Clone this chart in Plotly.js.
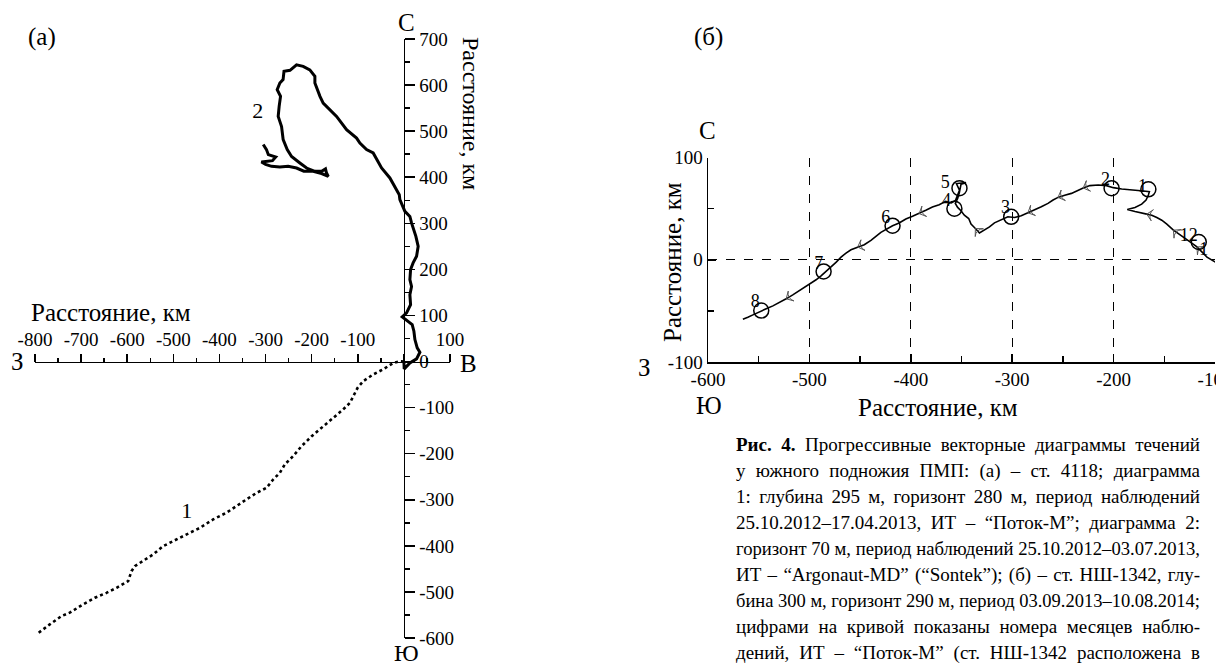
<!DOCTYPE html>
<html>
<head>
<meta charset="utf-8">
<script src="https://cdn.plot.ly/plotly-3.0.1.min.js"></script>
<style>
html,body{margin:0;padding:0;background:#fff;overflow:hidden;}
#chart{position:absolute;left:0;top:0;width:1216px;height:665px;}
#caption{position:absolute;left:736px;top:432px;width:464px;height:240px;font-family:"Liberation Serif","Times New Roman",serif;font-size:19px;line-height:26px;color:#000;}
#caption div{position:absolute;left:0;white-space:nowrap;}
</style>
</head>
<body>
<div id="chart"></div>
<div id="caption"></div>
<script>
// ---------- Panel (а): progressive vector diagrams, st. 4118 ----------
const curve1X = [0,-8.7,-23,-45,-66.6,-88,-100.4,-110,-117,-131.7,-153,-175,-200,-211,-222,-240,-258,-269,-283.5,-297.8,-319.5,-341,-363,-384.6,-413.7,-442.5,-471,-500,-522,-543.8,-565.5,-583.5,-590.7,-598,-623,-645,-670,-695.7,-724.5,-742.5,-768,-796.7];
const curve1Y = [0,0.7,-3,-17,-28,-42.6,-57,-75,-89.7,-104,-122,-140,-162,-173,-183.7,-205,-223,-241.5,-256,-274,-285,-299,-314,-328,-342.7,-361,-375,-389.8,-400.6,-418.7,-433,-444,-455,-476.6,-491,-502,-512.6,-527,-545,-552.5,-570.5,-592];

const curve2X = [0,0.7,13,27.5,34.7,28.9,23.9,21.7,18,2.2,-3.6,5.8,14.5,13,16.6,13,14.5,20,27.5,31,26,16.6,13,2.2,-8.7,-10,-19.5,-30.4,-48.4,-59,-66.6,-81,-95.4,-102.6,-124.3,-146,-156.8,-175,-182,-193,-193,-204,-218.4,-232.8,-247,-260,-262,-269,-274.8,-267.5,-270.5,-272.6,-265.3,-261.8,-253,-243.6,-225.6,-211,-193,-178.5,-170,-168,-164,-178.5,-196.7,-217,-232.8,-251,-269,-287,-300,-309,-285,-278,-294,-298,-305];
const curve2Y = [0,-15.9,-2.9,5.8,20.2,29.6,47.7,65.8,80,91,97,105.6,123.6,145,163,178,199.6,214,228.5,250,271.8,300.8,315,326,351.4,362,380,398.5,420,438,452.7,460,474,485,503,532,543,561,575.5,604.5,619,633,640.6,644,632,630,612,604.5,590,575.5,553.8,532,510,481.6,460,445,431,420,412.8,412.8,418,410,402,408,413,413,420,423.6,422,423.6,428,433,436,444,449,460,471];

const curveLabelsA = ['1','2'];
const curveLabelAX = [-470.7,-316.7];
const curveLabelAY = [-327.5,540];

const tickValsAX = [-800,-700,-600,-500,-400,-300,-200,-100,0,100];
const tickTextAX = ['-800','-700','-600','-500','-400','-300','-200','-100','','100'];
const tickValsAY = [-600,-500,-400,-300,-200,-100,0,100,200,300,400,500,600,700];
const tickTextAY = ['-600','-500','-400','-300','-200','-100','0','100','200','300','400','500','600','700'];

// ---------- Panel (б): st. НШ-1342 ----------
const pathBX = [-95,-99.7,-107.9,-117.8,-126,-136,-141,-147.5,-152.5,-157.4,-162.4,-167.3,-174,-178.9,-186.5,-178.9,-172.3,-168,-165.7,-164.7,-170.6,-177.2,-183.8,-192,-200.3,-207,-215.2,-223.4,-230,-236,-241.6,-248.2,-254.8,-259.7,-264.7,-271.3,-277.9,-284.5,-291.1,-297.7,-304.3,-310.9,-317.5,-322.4,-327.4,-332.3,-336.3,-340.6,-342.9,-347.2,-350.5,-353.8,-356.1,-353.8,-352.1,-351.5,-350.5,-345.5,-355,-352,-356,-360,-365.6,-372,-378.7,-385.2,-391.8,-398.3,-404.9,-411.5,-418,-424.6,-429.5,-434.4,-439.3,-445.9,-452.4,-459,-463.9,-468.8,-473.8,-478.7,-483.6,-488.5,-493.4,-498.3,-503.3,-509.8,-516.4,-522.9,-529.5,-536,-542.6,-549.2,-555.7,-560.7,-565.6];
const pathBY = [-4,-2.3,2.6,12.5,18.4,24.9,28.9,34.8,38.7,41.3,43.6,44.6,45.9,47.2,49.2,51.2,54.4,58.4,63.3,66.6,67.2,67.6,68.2,69.2,70.5,72.5,73.1,72.5,70.2,67.6,64.9,63,61,58.4,55.1,51.8,49.2,45.9,43,41.3,42,39.4,36.1,32.1,28.9,26.2,30.5,34.8,40.3,43.6,47.9,51.2,55.1,60,65.6,69.9,73.8,75.4,74.5,68,58,55.5,57.2,53.9,51.6,48.4,45.1,42.5,39.9,35.9,33.3,30,26.8,22.9,19,14.7,12.4,9.8,6.5,2.6,-2.6,-7.2,-11.4,-15.7,-19.6,-22.9,-26.1,-30.1,-34.3,-38.2,-41.8,-45.1,-48,-51.3,-53.9,-56.2,-58.2];
const arrowAt = [3,6,11,28,32,37,46,66,76,89];

const monthCircleX = [-547.5,-486,-418,-352,-357,-301,-202,-165.7,-116];
const monthCircleY = [-49.7,-11.4,33.3,70,50,42,70,68.9,17.4];
const monthLabels = ['8','7','6','5','4','3','2','1','12','1'];
const monthLabelX = [-553.4,-490.8,-424.6,-366,-364.7,-306.6,-208,-171.6,-126,-111];
const monthLabelY = [-41.8,-4.9,39.9,74.8,56.7,50,78,70.5,23,9.2];

const tickValsBX = [-600,-500,-400,-300,-200,-100];
const tickTextBX = ['-600','-500','-400','-300','-200','-100'];
const tickValsBY = [-100,0,100];
const tickTextBY = ['-100','0','100'];

const captionLines = [
  '<b>Рис. 4.</b> Прогрессивные векторные диаграммы течений',
  'у южного подножия ПМП: (а) – ст. 4118; диаграмма',
  '1: глубина 295 м, горизонт 280 м, период наблюдений',
  '25.10.2012–17.04.2013, ИТ – “Поток-М”; диаграмма 2:',
  'горизонт 70 м, период наблюдений 25.10.2012–03.07.2013,',
  'ИТ – “Argonaut-MD” (“Sontek”); (б) – ст. НШ-1342, глу-',
  'бина 300 м, горизонт 290 м, период 03.09.2013–10.08.2014;',
  'цифрами на кривой показаны номера месяцев наблю-',
  'дений, ИТ – “Поток-М” (ст. НШ-1342 расположена в'
];

// ---------- layout geometry ----------
const W = 1216, H = 665;
const FONT = 'Liberation Serif, Times New Roman, serif';
const px = v => v / W;
const py = v => 1 - v / H;

const xDomA = [px(35), px(450)], yDomA = [py(638), py(39)];
const xRangeA = [-800, 100], yRangeA = [-600, 700];
const yAxisPosA = xDomA[0] + (0 - xRangeA[0]) / (xRangeA[1] - xRangeA[0]) * (xDomA[1] - xDomA[0]);
const xAxisPosA = yDomA[0] + (0 - yRangeA[0]) / (yRangeA[1] - yRangeA[0]) * (yDomA[1] - yDomA[0]);

const xDomB = [px(708), px(1215)], yDomB = [py(362), py(157.5)];

// arrow directions along path (б)
const arrX = [], arrY = [], arrAng = [];
arrowAt.forEach(i => {
  const a = Math.max(0, i - 1), b = Math.min(pathBX.length - 1, i + 1);
  const dx = (pathBX[b] - pathBX[a]) * 1.015, dy = (pathBY[b] - pathBY[a]) * 1.02;
  arrX.push(pathBX[i]); arrY.push(pathBY[i]);
  arrAng.push(Math.atan2(dx, dy) * 180 / Math.PI);
});

const traces = [
  {x: curve1X, y: curve1Y, xaxis: 'x', yaxis: 'y', mode: 'lines', line: {color: '#000', width: 2.6, dash: 'dot'}, hoverinfo: 'skip'},
  {x: curve2X, y: curve2Y, xaxis: 'x', yaxis: 'y', mode: 'lines', line: {color: '#000', width: 3}, hoverinfo: 'skip'},
  {x: curveLabelAX, y: curveLabelAY, text: curveLabelsA, xaxis: 'x', yaxis: 'y', mode: 'text', textfont: {family: FONT, size: 22, color: '#000'}, hoverinfo: 'skip'},
  {x: pathBX, y: pathBY, xaxis: 'x2', yaxis: 'y2', mode: 'lines', line: {color: '#000', width: 1.6}, hoverinfo: 'skip'},
  {x: arrX, y: arrY, xaxis: 'x2', yaxis: 'y2', mode: 'markers', marker: {symbol: 'arrow-wide-open', size: 8, color: '#555', angle: arrAng, line: {width: 1, color: '#555'}}, hoverinfo: 'skip'},
  {x: monthCircleX, y: monthCircleY, xaxis: 'x2', yaxis: 'y2', mode: 'markers', marker: {symbol: 'circle-open', size: 15, color: '#000', line: {width: 1.5, color: '#000'}}, hoverinfo: 'skip'},
  {x: monthLabelX, y: monthLabelY, text: monthLabels, xaxis: 'x2', yaxis: 'y2', mode: 'text', textfont: {family: FONT, size: 18, color: '#000'}, hoverinfo: 'skip'}
];

function ann(text, x, y, size, extra) {
  return Object.assign({text: text, x: px(x), y: py(y), xref: 'paper', yref: 'paper', showarrow: false,
    xanchor: 'center', yanchor: 'middle', font: {family: FONT, size: size, color: '#000'}}, extra || {});
}

const annotations = [
  ann('(а)', 42, 37, 25),
  ann('С', 406, 23, 25),
  ann('З', 17, 362, 25),
  ann('В', 468, 363, 25),
  ann('Ю', 406, 653, 24),
  ann('Расстояние, км', 111, 313, 25),
  ann('Расстояние, км', 471, 113, 24, {textangle: 90}),
  ann('(б)', 708, 37, 25),
  ann('С', 707, 130, 25),
  ann('З', 644, 367, 25),
  ann('Ю', 709, 405, 25),
  ann('Расстояние, км', 938, 407, 25),
  ann('Расстояние, км', 673, 262, 25, {textangle: -90})
];

const tickFont = {family: FONT, size: 19, color: '#000'};
const layout = {
  width: W, height: H,
  margin: {l: 0, r: 0, t: 0, b: 0, pad: 0},
  paper_bgcolor: '#fff', plot_bgcolor: 'rgba(0,0,0,0)',
  showlegend: false,
  xaxis: {domain: xDomA, range: xRangeA, anchor: 'free', position: xAxisPosA, side: 'top',
    showline: true, linecolor: '#000', linewidth: 1.5, showgrid: false, zeroline: false,
    ticks: 'outside', ticklen: 8, tickwidth: 1.5, tickcolor: '#000',
    tickmode: 'array', tickvals: tickValsAX, ticktext: tickTextAX, tickfont: tickFont,
    minor: {tickmode: 'linear', tick0: -750, dtick: 100, ticks: 'outside', ticklen: 4, tickwidth: 1.5, tickcolor: '#000'},
    fixedrange: true},
  yaxis: {domain: yDomA, range: yRangeA, anchor: 'free', position: yAxisPosA, side: 'right',
    showline: true, linecolor: '#000', linewidth: 1.5, showgrid: false, zeroline: false,
    ticks: 'outside', ticklen: 10, tickwidth: 1.5, tickcolor: '#000',
    tickmode: 'array', tickvals: tickValsAY, ticktext: tickTextAY, tickfont: tickFont,
    minor: {tickmode: 'linear', tick0: -550, dtick: 100, ticks: 'outside', ticklen: 5, tickwidth: 1.5, tickcolor: '#000'},
    fixedrange: true},
  xaxis2: {domain: xDomB, range: [-600, -100], anchor: 'y2', side: 'bottom',
    showline: true, linecolor: '#000', linewidth: 1.5, zeroline: false,
    showgrid: true, gridcolor: '#000', gridwidth: 1, griddash: 'dash',
    ticks: 'inside', ticklen: 8, tickwidth: 1.5, tickcolor: '#000',
    tickmode: 'array', tickvals: tickValsBX, ticktext: tickTextBX, tickfont: tickFont,
    ticklabeloverflow: 'allow',
    minor: {tickmode: 'linear', tick0: -550, dtick: 100, ticks: 'inside', ticklen: 6, tickwidth: 1.5, tickcolor: '#000', showgrid: false},
    fixedrange: true},
  yaxis2: {domain: yDomB, range: [-100, 100], anchor: 'x2', side: 'left',
    showline: true, linecolor: '#000', linewidth: 1.5, zeroline: false,
    showgrid: true, gridcolor: '#000', gridwidth: 1, griddash: 'dash',
    ticks: 'inside', ticklen: 8, tickwidth: 1.5, tickcolor: '#000',
    tickmode: 'array', tickvals: tickValsBY, ticktext: tickTextBY, tickfont: tickFont,
    minor: {tickmode: 'linear', tick0: -50, dtick: 100, ticks: 'inside', ticklen: 6, tickwidth: 1.5, tickcolor: '#000', showgrid: false},
    fixedrange: true},
  annotations: annotations
};

Plotly.newPlot('chart', traces, layout, {displayModeBar: false, staticPlot: true});

// caption, justified line by line
const cap = document.getElementById('caption');
const CAP_W = 464;
captionLines.forEach((t, i) => {
  const d = document.createElement('div');
  d.style.top = (i * 26) + 'px';
  d.innerHTML = t;
  cap.appendChild(d);
  const w = d.getBoundingClientRect().width;
  const spaces = (d.textContent.match(/ /g) || []).length;
  if (w < CAP_W && spaces > 0) {
    d.style.wordSpacing = ((CAP_W - w) / spaces) + 'px';
  } else if (w > CAP_W) {
    d.style.transformOrigin = '0 0';
    d.style.transform = 'scaleX(' + (CAP_W / w) + ')';
  }
});
</script>
</body>
</html>
